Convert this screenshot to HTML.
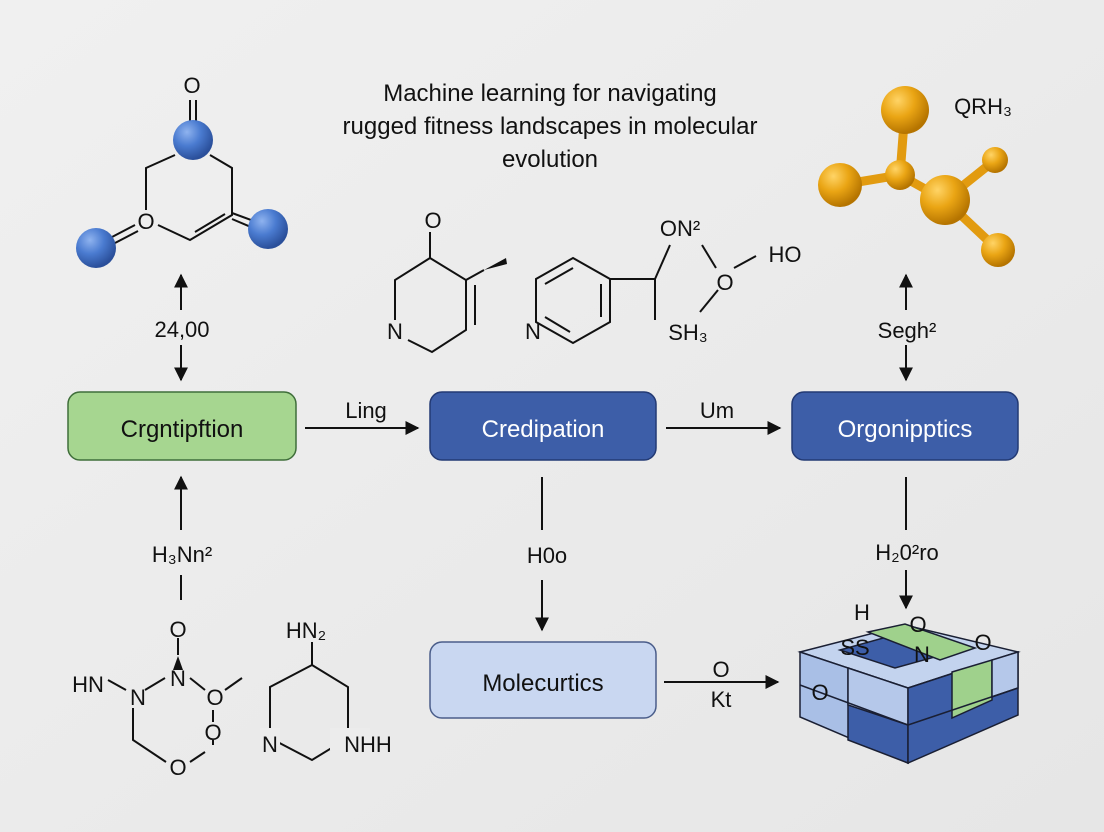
<!DOCTYPE html>
<html><head><meta charset="utf-8"><style>
html,body{margin:0;padding:0;width:1104px;height:832px;overflow:hidden;background:#ececec}
text{font-family:"Liberation Sans",sans-serif;fill:#111}
</style></head><body>
<svg width="1104" height="832" viewBox="0 0 1104 832" xmlns="http://www.w3.org/2000/svg">
<defs>
<radialGradient id="bb" cx="0.35" cy="0.3" r="0.7"><stop offset="0" stop-color="#8fb3ef"/><stop offset="0.5" stop-color="#4a7bd0"/><stop offset="1" stop-color="#2a4f9a"/></radialGradient>
<radialGradient id="ob" cx="0.35" cy="0.3" r="0.7"><stop offset="0" stop-color="#ffd466"/><stop offset="0.5" stop-color="#eaa514"/><stop offset="1" stop-color="#b57400"/></radialGradient>
<marker id="ah" viewBox="0 0 10 10" refX="9" refY="5" markerWidth="7" markerHeight="7" orient="auto-start-reverse"><path d="M0,0 L10,5 L0,10 z" fill="#111"/></marker>
<linearGradient id="bg" x1="0" y1="0" x2="1" y2="1"><stop offset="0" stop-color="#f0f0f0"/><stop offset="1" stop-color="#e6e6e6"/></linearGradient>
</defs>
<rect width="1104" height="832" fill="url(#bg)"/>
<g stroke="#111" stroke-width="2" fill="none">
<line x1="190" y1="100" x2="190" y2="125"/><line x1="196" y1="100" x2="196" y2="125"/>
<polyline points="175,155 146,168 146,210"/>
<polyline points="210,155 232,168 232,215 190,240 158,225"/>
<line x1="195" y1="232" x2="225" y2="214"/>
<line x1="232" y1="213" x2="262" y2="224"/><line x1="232" y1="219" x2="258" y2="230"/>
<line x1="112" y1="237" x2="135" y2="225"/><line x1="115" y1="243" x2="138" y2="231"/>
<line x1="181" y1="275" x2="181" y2="310" marker-start="url(#ah)"/>
<line x1="181" y1="345" x2="181" y2="380" marker-end="url(#ah)"/>
<line x1="181" y1="530" x2="181" y2="477" marker-end="url(#ah)"/>
<line x1="181" y1="575" x2="181" y2="600"/>
<line x1="305" y1="428" x2="418" y2="428" marker-end="url(#ah)"/>
<line x1="666" y1="428" x2="780" y2="428" marker-end="url(#ah)"/>
<line x1="542" y1="477" x2="542" y2="530"/>
<line x1="542" y1="580" x2="542" y2="630" marker-end="url(#ah)"/>
<line x1="664" y1="682" x2="778" y2="682" marker-end="url(#ah)"/>
<line x1="906" y1="275" x2="906" y2="310" marker-start="url(#ah)"/>
<line x1="906" y1="345" x2="906" y2="380" marker-end="url(#ah)"/>
<line x1="906" y1="477" x2="906" y2="530"/>
<line x1="906" y1="570" x2="906" y2="608" marker-end="url(#ah)"/>
<line x1="430" y1="232" x2="430" y2="258"/>
<polyline points="430,258 395,280 395,320"/>
<polyline points="430,258 466,280 466,330 432,352 408,340"/>
<line x1="475" y1="285" x2="475" y2="325"/>
<line x1="466" y1="280" x2="484" y2="270"/>
<polygon points="573,258 610,279 610,322 573,343 536,322 536,279"/>
<line x1="545" y1="284" x2="573" y2="268"/><line x1="601" y1="284" x2="601" y2="317"/><line x1="545" y1="317" x2="570" y2="332"/>
<polyline points="610,279 655,279 655,320"/>
<line x1="655" y1="279" x2="670" y2="245"/>
<line x1="702" y1="245" x2="716" y2="268"/><line x1="734" y1="268" x2="756" y2="256"/>
<line x1="718" y1="290" x2="700" y2="312"/>
<line x1="178" y1="638" x2="178" y2="655"/>
<line x1="108" y1="680" x2="126" y2="690"/>
<polyline points="145,690 165,678"/>
<polyline points="190,678 205,690"/><line x1="225" y1="690" x2="242" y2="678"/>
<polyline points="133,708 133,740 166,762"/><line x1="190" y1="762" x2="205" y2="752"/>
<line x1="213" y1="710" x2="213" y2="722"/><line x1="213" y1="740" x2="213" y2="745"/>
<line x1="312" y1="642" x2="312" y2="665"/>
<polygon points="312,665 348,687 348,738 312,760 270,738 270,687"/>
</g>
<polygon points="173,670 183,670 178,656" fill="#111"/>
<path d="M484,270 L506,258 L507,264 Z" fill="#111"/>
<rect x="330" y="728" width="40" height="22" fill="#ececec"/>
<rect x="260" y="728" width="20" height="18" fill="#ececec"/>
<g fill="url(#bb)">
<circle cx="193" cy="140" r="20"/><circle cx="96" cy="248" r="20"/><circle cx="268" cy="229" r="20"/>
</g>
<g stroke="#e29b10" stroke-width="9" stroke-linecap="round">
<line x1="905" y1="110" x2="900" y2="175"/><line x1="900" y1="175" x2="840" y2="185"/><line x1="900" y1="175" x2="945" y2="200"/><line x1="945" y1="200" x2="995" y2="160"/><line x1="945" y1="200" x2="998" y2="250"/>
</g>
<g fill="url(#ob)">
<circle cx="905" cy="110" r="24"/><circle cx="900" cy="175" r="15"/><circle cx="840" cy="185" r="22"/><circle cx="945" cy="200" r="25"/><circle cx="995" cy="160" r="13"/><circle cx="998" cy="250" r="17"/>
</g>
<rect x="68" y="392" width="228" height="68" rx="12" fill="#a6d690" stroke="#3f6e3a" stroke-width="1.5"/>
<rect x="430" y="392" width="226" height="68" rx="12" fill="#3d5ea8" stroke="#233a74" stroke-width="1.5"/>
<rect x="792" y="392" width="226" height="68" rx="12" fill="#3d5ea8" stroke="#233a74" stroke-width="1.5"/>
<rect x="430" y="642" width="226" height="76" rx="12" fill="#c9d7f1" stroke="#4a5d8a" stroke-width="1.5"/>
<text x="182" y="437" font-size="24" text-anchor="middle">Crgntipftion</text>
<text x="543" y="437" font-size="24" text-anchor="middle" style="fill:#fff">Credipation</text>
<text x="905" y="437" font-size="24" text-anchor="middle" style="fill:#fff">Orgonipptics</text>
<text x="543" y="691" font-size="24" text-anchor="middle">Molecurtics</text>
<g stroke="#1a1f33" stroke-width="1.5">
<polygon points="800,652 905,625 1018,652 908,688" fill="#c3d3ee"/>
<polygon points="840,650 905,632 960,650 895,668" fill="#3d5ea8"/>
<polygon points="868,632 905,624 975,648 940,660" fill="#9fd18c"/>
<polygon points="800,652 908,688 908,763 800,717" fill="#a9bfe6"/>
<polygon points="848,668 908,688 908,763 848,740" fill="#3d5ea8"/>
<polygon points="848,668 908,688 908,725 848,705" fill="#b5c8ea"/>
<polygon points="908,688 1018,652 1018,715 908,763" fill="#3d5ea8"/>
<polygon points="952,672 992,660 992,700 952,718" fill="#9fd18c"/>
<polygon points="992,660 1018,652 1018,688 992,697" fill="#b5c8ea"/>
<line x1="800" y1="685" x2="908" y2="725"/><line x1="908" y1="725" x2="1018" y2="688"/>
</g>
<g font-size="22">
<text x="192" y="93" text-anchor="middle">O</text>
<text x="146" y="229" text-anchor="middle">O</text>
<text x="182" y="337" text-anchor="middle">24,00</text>
<text x="182" y="562" text-anchor="middle">H₃Nn²</text>
<text x="366" y="418" text-anchor="middle">Ling</text>
<text x="717" y="418" text-anchor="middle">Um</text>
<text x="547" y="563" text-anchor="middle">H0o</text>
<text x="907" y="338" text-anchor="middle">Segh²</text>
<text x="907" y="560" text-anchor="middle">H₂0²ro</text>
<text x="721" y="677" text-anchor="middle">O</text>
<text x="721" y="707" text-anchor="middle">Kt</text>
<text x="433" y="228" text-anchor="middle">O</text>
<text x="395" y="339" text-anchor="middle">N</text>
<text x="533" y="339" text-anchor="middle">N</text>
<text x="680" y="236" text-anchor="middle">ON²</text>
<text x="785" y="262" text-anchor="middle">HO</text>
<text x="725" y="290" text-anchor="middle">O</text>
<text x="688" y="340" text-anchor="middle">SH₃</text>
<text x="983" y="114" text-anchor="middle">QRH₃</text>
<text x="178" y="637" text-anchor="middle">O</text>
<text x="88" y="692" text-anchor="middle">HN</text>
<text x="138" y="705" text-anchor="middle">N</text>
<text x="178" y="686" text-anchor="middle">N</text>
<text x="215" y="705" text-anchor="middle">O</text>
<text x="213" y="740" text-anchor="middle">O</text>
<text x="178" y="775" text-anchor="middle">O</text>
<text x="306" y="638" text-anchor="middle">HN₂</text>
<text x="270" y="752" text-anchor="middle">N</text>
<text x="368" y="752" text-anchor="middle">NHH</text>
<text x="862" y="620" text-anchor="middle">H</text>
<text x="855" y="655" text-anchor="middle">SS</text>
<text x="918" y="632" text-anchor="middle">O</text>
<text x="922" y="662" text-anchor="middle">N</text>
<text x="983" y="650" text-anchor="middle">O</text>
<text x="820" y="700" text-anchor="middle">O</text>
</g>
<g font-size="24" text-anchor="middle" style="font-weight:500">
<text x="550" y="101">Machine learning for navigating</text>
<text x="550" y="134">rugged fitness landscapes in molecular</text>
<text x="550" y="167">evolution</text>
</g>
</svg>
</body></html>
